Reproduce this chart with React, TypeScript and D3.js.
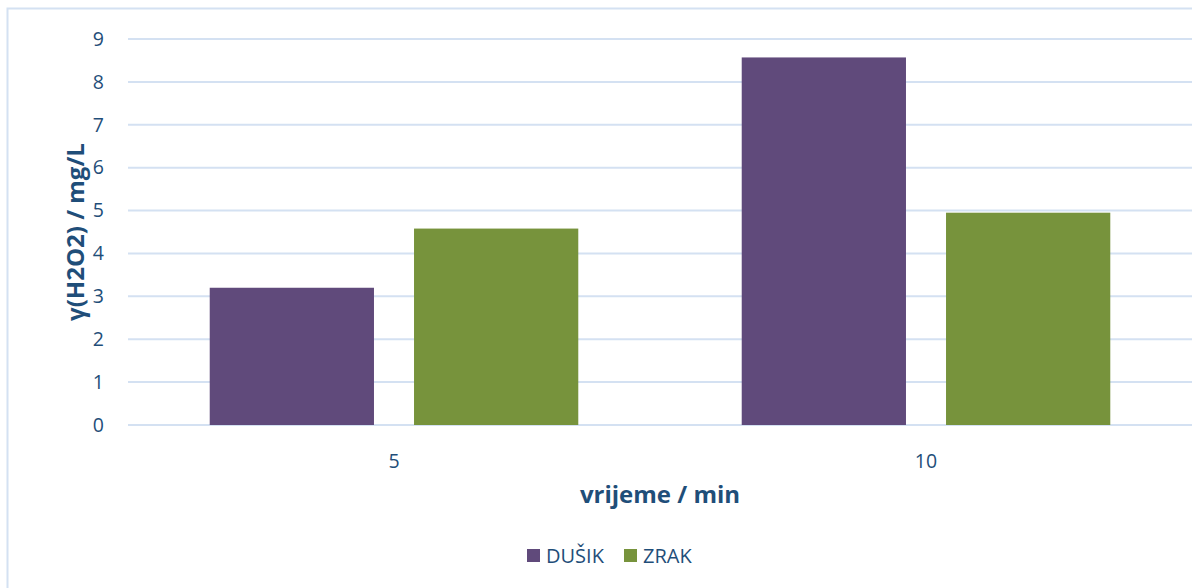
import { scaleBand, scaleLinear } from "d3";

const categories = ["5", "10"];
const seriesNames = ["DUŠIK", "ZRAK"];
const dusik = [3.2, 8.57];
const zrak = [4.58, 4.95];
const yTicks = [0, 1, 2, 3, 4, 5, 6, 7, 8, 9];
const colors = ["#604a7b", "#77933c"];

const width = 1192;
const height = 588;
const textColor = "#1f4e79";
const gridColor = "#d4e1f2";
const font = "'Open Sans', 'Noto Sans', sans-serif";

function App() {
  const margin = { left: 128, right: 0, top: 39, bottom: 163 };

  const x = scaleBand<string>()
    .domain(categories)
    .range([margin.left, width - margin.right]);

  const inner = scaleBand<string>()
    .domain(seriesNames)
    .range([0, x.bandwidth()])
    .paddingInner(0.196)
    .paddingOuter(0.4);

  const y = scaleLinear()
    .domain([0, 9])
    .range([height - margin.bottom, margin.top]);

  const values = [dusik, zrak];

  return (
    <svg
      width={width}
      height={height}
      viewBox={`0 0 ${width} ${height}`}
      style={{ position: "absolute", left: 0, top: 0, background: "#fff" }}
      fontFamily={font}
    >
      {/* chart border */}
      <rect
        x={7.5}
        y={8.5}
        width={width + 20}
        height={height + 20}
        fill="none"
        stroke={gridColor}
        strokeWidth={2}
      />

      {/* gridlines */}
      {yTicks.map((t) => (
        <line
          key={t}
          x1={margin.left}
          x2={width}
          y1={y(t)}
          y2={y(t)}
          stroke={gridColor}
          strokeWidth={2}
        />
      ))}

      {/* bars */}
      {categories.map((c, i) => (
        <g key={c} transform={`translate(${x(c)}, 0)`}>
          {seriesNames.map((s, j) => (
            <rect
              key={s}
              x={inner(s)}
              y={y(values[j][i])}
              width={inner.bandwidth()}
              height={y(0) - y(values[j][i])}
              fill={colors[j]}
            />
          ))}
        </g>
      ))}

      {/* y tick labels */}
      {yTicks.map((t) => (
        <text
          key={t}
          x={104}
          y={y(t)}
          dy="0.35em"
          textAnchor="end"
          fontSize={19.5}
          fill={textColor}
        >
          {t}
        </text>
      ))}

      {/* x tick labels */}
      {categories.map((c) => (
        <text
          key={c}
          x={x(c)! + x.bandwidth() / 2}
          y={468}
          textAnchor="middle"
          fontSize={19.5}
          fill={textColor}
        >
          {c}
        </text>
      ))}

      {/* axis titles */}
      <text
        x={(margin.left + width) / 2}
        y={503}
        textAnchor="middle"
        fontSize={24}
        fontWeight="bold"
        fill={textColor}
      >
        vrijeme / min
      </text>
      <text
        transform={`translate(84, ${(y(0) + y(9)) / 2}) rotate(-90)`}
        textAnchor="middle"
        fontSize={24}
        fontWeight="bold"
        fill={textColor}
      >
        γ(H2O2) / mg/L
      </text>

      {/* legend */}
      {seriesNames.map((s, j) => {
        const lx = j === 0 ? 527 : 624;
        return (
          <g key={s} transform={`translate(${lx}, 549)`}>
            <rect width={13} height={13} fill={colors[j]} />
            <text x={19} y={13.5} fontSize={20} fill={textColor}>
              {s}
            </text>
          </g>
        );
      })}
    </svg>
  );
}

export default App;
